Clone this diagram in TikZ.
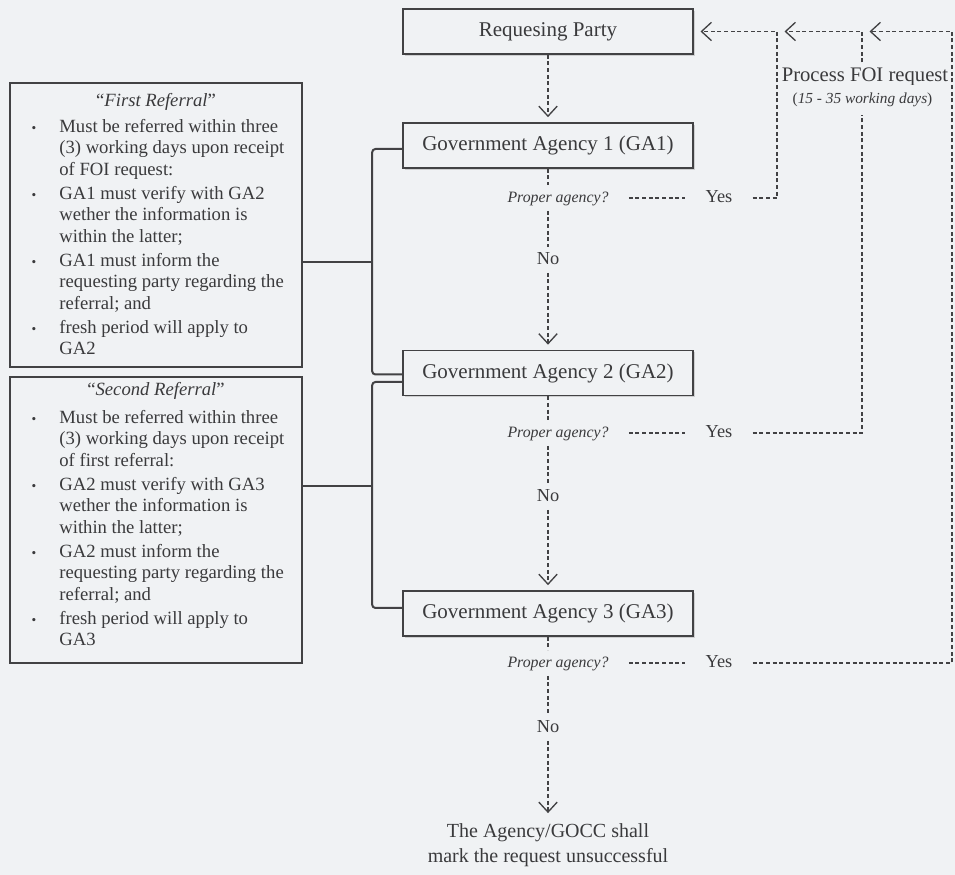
\documentclass[tikz,border=0pt]{standalone}
\usepackage{fontspec}
\setmainfont{Liberation Serif}
\usetikzlibrary{arrows.meta,shadows}
\definecolor{bg}{RGB}{240,242,244}
\definecolor{ink}{RGB}{66,66,68}
\definecolor{txt}{RGB}{58,58,60}
\newcommand\bul{\llap{{\fontsize{8}{8}\selectfont\textbullet}\hspace{13.8pt}}}
\begin{document}
\begin{tikzpicture}[x=0.6pt,y=-0.6pt,
  every node/.style={text=txt},
  mainbox/.style={draw=ink, line width=1pt, fill=bg, minimum width=174pt, minimum height=27pt, inner sep=0pt, font=\fontsize{12.6}{15}\selectfont, drop shadow={shadow xshift=1.2pt, shadow yshift=-1.2pt, opacity=0.3}},
  sidebox/.style={draw=ink, line width=1.1pt, fill=bg, minimum width=175.2pt, minimum height=170.4pt, inner sep=0pt},
  sidetitle/.style={font=\fontsize{11.2}{12.9}\selectfont, inner sep=0pt},
  sidetext/.style={font=\fontsize{11.2}{12.9}\selectfont, align=left, inner sep=0pt},
  question/.style={font=\fontsize{9.5}{11}\selectfont\itshape, inner xsep=12pt, inner ysep=3pt, text height=7pt, text depth=2pt},
  answer/.style={font=\fontsize{11}{13}\selectfont, inner xsep=12pt, inner ysep=3pt, text height=7pt, text depth=2pt},
  dline/.style={draw=ink, line width=0.7pt, dash pattern=on 2.4pt off 1.6pt},
  tip/.style={-{Straight Barb[length=6pt,width=11pt,line width=0.8pt]}},
  bracket/.style={draw=ink, line width=1.2pt, rounded corners=2pt},
  foistyle/.style={fill=bg, inner xsep=0.5pt}
]
\fill[bg] (0,0) rectangle (955,875);
\useasboundingbox (0,0) rectangle (955,875);

% main column
\node[mainbox] (rp) at (548,31.5) {Requesing Party};
\node[mainbox] (ga1) at (548,145.5) {Government Agency 1 (GA1)};
\node[mainbox] (ga2) at (548,373) {Government Agency 2 (GA2)};
\node[mainbox] (ga3) at (548,613.5) {Government Agency 3 (GA3)};

\node[question] (pa1) at (558,198) {Proper agency?};
\node[question] (pa2) at (558,433) {Proper agency?};
\node[question] (pa3) at (558,663) {Proper agency?};
\node[answer] (yes1) at (719,198) {Yes};
\node[answer] (yes2) at (719,433) {Yes};
\node[answer] (yes3) at (719,663) {Yes};
\node[answer] (no1) at (548,260) {No};
\node[answer] (no2) at (548,497) {No};
\node[answer] (no3) at (548,728) {No};

\node[font=\fontsize{12}{15}\selectfont, align=center, inner sep=3pt] (fin) at (548,845) {The Agency/GOCC shall\\ mark the request unsuccessful};

% side boxes
\node[sidebox] (l1) at (156,225) {};
\node[sidetitle] (t1) at (156,102) {“\textit{First Referral}”};
\node[sidetext, anchor=north west] (x1) at (59,119) {\bul Must be referred within three\\ (3) working days upon receipt\\ of FOI request:\\[1.5pt]
\bul GA1 must verify with GA2\\ wether the information is\\ within the latter;\\[1.5pt]
\bul GA1 must inform the\\ requesting party regarding the\\ referral; and\\[1.5pt]
\bul fresh period will apply to\\ GA2};

\node[sidebox, minimum height=171.6pt] (l2) at (156,520) {};
\node[sidetitle] (t2) at (156,391) {“\textit{Second Referral}”};
\node[sidetext, anchor=north west] (x2) at (59,410) {\bul Must be referred within three\\ (3) working days upon receipt\\ of first referral:\\[1.5pt]
\bul GA2 must verify with GA3\\ wether the information is\\ within the latter;\\[1.5pt]
\bul GA2 must inform the\\ requesting party regarding the\\ referral; and\\[1.5pt]
\bul fresh period will apply to\\ GA3};

% brackets
\draw[bracket] ([yshift=-2.1pt]ga1.west) -- ++(-30,0) coordinate (k1) |- ([yshift=-0.9pt]ga2.west);
\coordinate (h1) at ([yshift=-22.2pt]l1.east);
\draw[bracket] (h1) -- (h1 -| k1);
\draw[bracket] ([yshift=-5.4pt]ga2.west) -- ++(-30,0) coordinate (k2) |- ([yshift=3.3pt]ga3.west);
\coordinate (h2) at ([yshift=20.4pt]l2.east);
\draw[bracket] (h2) -- (h2 -| k2);

% vertical flow
\draw[dline, tip, shorten >=3pt] (rp.south) -- (ga1.north);
\draw[dline] (ga1.south) -- (pa1.north -| ga1.south);
\draw[dline] (pa1.south -| no1.north) -- (no1.north);
\draw[dline, tip, shorten >=3pt] (no1.south) -- (ga2.north);
\draw[dline] (ga2.south) -- (pa2.north -| ga2.south);
\draw[dline] (pa2.south -| no2.north) -- (no2.north);
\draw[dline, tip, shorten >=3pt] (no2.south) -- (ga3.north);
\draw[dline] (ga3.south) -- (pa3.north -| ga3.south);
\draw[dline] (pa3.south -| no3.north) -- (no3.north);
\draw[dline, tip, shorten >=3pt] (no3.south) -- (fin.north);

\draw[dline] (pa1) -- (yes1);
\draw[dline] (pa2) -- (yes2);
\draw[dline] (pa3) -- (yes3);

% feedback
\coordinate (c1) at (777,31.5);
\coordinate (c2) at (862,31.5);
\coordinate (c3) at (952,31.5);
\draw[dline, tip, shorten >=4pt] (yes1.east) -| (c1) -- (rp.east);
\draw[dline, tip, shorten >=4.5pt] (yes2.east) -| (c2) -- (c1);
\draw[dline, tip, shorten >=4.5pt] (yes3.east) -| (c3) -- (c2);

\node[foistyle, inner ysep=3pt, font=\fontsize{12.4}{14}\selectfont] (foi) at (865,77) {Process FOI request};
\node[foistyle, inner ysep=5pt, font=\fontsize{9.2}{11}\selectfont] (days) at (862.5,100) {(\textit{15 - 35 working days})};
\end{tikzpicture}
\end{document}
